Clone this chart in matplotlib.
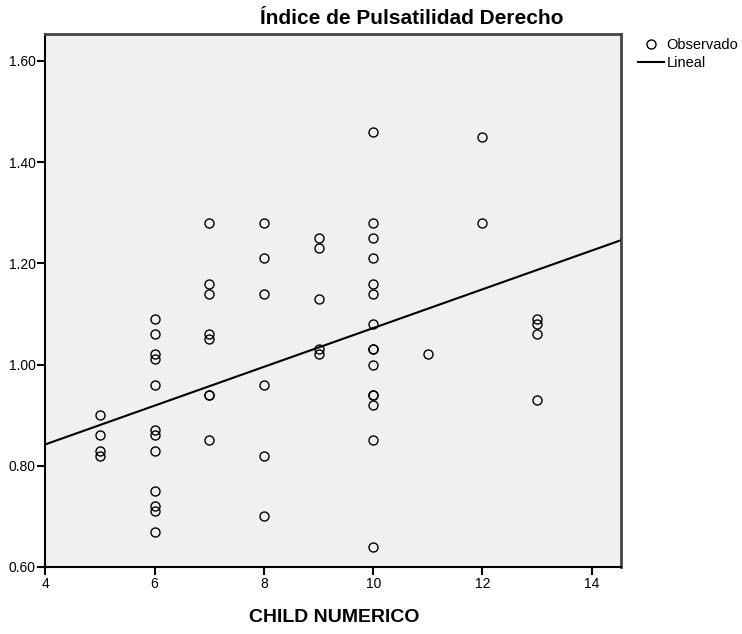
import matplotlib
matplotlib.use("Agg")
import matplotlib.pyplot as plt
import numpy as np
from matplotlib.ticker import FormatStrFormatter

# Índice de pulsatilidad derecho por edad (CHILD NUMERICO)
child_5 = [0.90, 0.86, 0.83, 0.82]
child_6 = [1.09, 1.06, 1.02, 1.01, 0.96, 0.87, 0.86, 0.83, 0.75, 0.72, 0.71, 0.67]
child_7 = [1.28, 1.16, 1.14, 1.06, 1.05, 0.94, 0.94, 0.85]
child_8 = [1.28, 1.21, 1.14, 0.96, 0.82, 0.70]
child_9 = [1.25, 1.23, 1.13, 1.03, 1.02]
child_10 = [1.46, 1.28, 1.25, 1.21, 1.16, 1.14, 1.08, 1.03, 1.03, 1.00,
            0.94, 0.94, 0.92, 0.85, 0.64]
child_11 = [1.02]
child_12 = [1.45, 1.28]
child_13 = [1.09, 1.08, 1.06, 0.93]

ages = [5, 6, 7, 8, 9, 10, 11, 12, 13]
groups = [child_5, child_6, child_7, child_8, child_9, child_10,
          child_11, child_12, child_13]

# recta de ajuste lineal
fit_intercept = 0.689
fit_slope = 0.0383

x_ticks = [4, 6, 8, 10, 12, 14]
y_ticks = [0.60, 0.80, 1.00, 1.20, 1.40, 1.60]

x = np.concatenate([[a] * len(g) for a, g in zip(ages, groups)])
y = np.concatenate(groups)

plt.rcParams['font.family'] = ['Liberation Sans', 'DejaVu Sans']

fig = plt.figure(figsize=(7.42, 6.34), dpi=100)
ax = fig.add_axes([45.3 / 742, 1 - 567 / 634, 576 / 742, 533 / 634])
ax.set_facecolor('#f0f0f0')

ax.plot(x, y, 'o', mfc='none', mec='black', ms=6.5, mew=1.0,
        label='Observado', zorder=3)
xl = np.array([4, 14.54])
ax.plot(xl, fit_intercept + fit_slope * xl, color='black', lw=1.5,
        label='Lineal', zorder=2)

ax.set_xlim(4, 14.54)
ax.set_ylim(0.6, 1.653)
ax.set_xticks(x_ticks)
ax.set_yticks(y_ticks)
ax.yaxis.set_major_formatter(FormatStrFormatter('%.2f'))
ax.tick_params(direction='out', length=6, width=1.5, color='black',
               labelsize=10, pad=1)

for s in ['left', 'bottom']:
    ax.spines[s].set_linewidth(1.5)
    ax.spines[s].set_color('black')
for s in ['top', 'right']:
    ax.spines[s].set_linewidth(2)
    ax.spines[s].set_color('#444444')

fig.text(412 / 742, 1 - 19 / 634, 'Índice de Pulsatilidad Derecho',
         ha='center', va='center', fontsize=15, fontweight='bold')
fig.text(334 / 742, 1 - 617 / 634, 'CHILD NUMERICO',
         ha='center', va='center', fontsize=14, fontweight='bold')

fig.legend(loc='upper left', bbox_to_anchor=(638 / 742, 1 - 38 / 634),
           frameon=False, fontsize=10.5, handlelength=1.75, handletextpad=0.2,
           labelspacing=0.3, borderpad=0, borderaxespad=0)

fig.savefig('out.png', dpi=100)
